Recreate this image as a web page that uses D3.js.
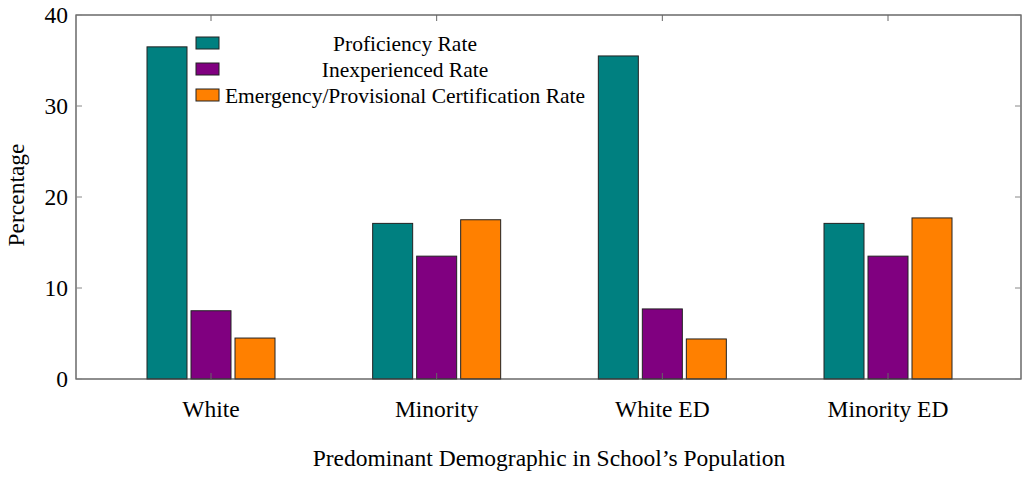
<!DOCTYPE html>
<html>
<head>
<meta charset="utf-8">
<script src="https://cdn.jsdelivr.net/npm/d3@7"></script>
<style>
  html, body { margin: 0; padding: 0; background: #fff; }
</style>
</head>
<body>
<svg id="chart" width="1030" height="478"></svg>
<script>
// --- data ---
const categories = ['White', 'Minority', 'White ED', 'Minority ED'];
const seriesNames = ['Proficiency Rate', 'Inexperienced Rate', 'Emergency/Provisional Certification Rate'];
const proficiency = [36.5, 17.1, 35.5, 17.1];
const inexperienced = [7.5, 13.5, 7.7, 13.5];
const emergency = [4.5, 17.5, 4.4, 17.7];
const yTicks = [0, 10, 20, 30, 40];
const colours = ['#008080', '#800080', '#ff8000'];

const series = [proficiency, inexperienced, emergency];
const FONT = "'Liberation Serif', Tinos, 'Times New Roman', 'DejaVu Serif', serif";

const m = { left: 76, right: 1021, top: 15, bottom: 379 };
const svg = d3.select('#chart');

const x = d3.scalePoint().domain(categories).range([211, 888]);
const y = d3.scaleLinear().domain([0, 40]).range([m.bottom, m.top]);
const barW = 40, step = 44;

function label(g, px, py, str, size, anchor) {
  return g.append('text').attr('x', px).attr('y', py)
    .attr('font-family', FONT).attr('font-size', size + 'px')
    .attr('text-anchor', anchor || 'middle').attr('fill', '#000').text(str);
}

// bars
series.forEach((vals, si) => {
  svg.append('g').selectAll('rect')
    .data(vals)
    .enter()
    .append('rect')
    .attr('x', (d, i) => x(categories[i]) + (si - 1) * step - barW / 2)
    .attr('y', d => y(d))
    .attr('width', barW)
    .attr('height', d => y(0) - y(d))
    .attr('fill', colours[si])
    .attr('stroke', '#222')
    .attr('stroke-width', 1);
});

// frame
svg.append('rect')
  .attr('x', m.left).attr('y', m.top)
  .attr('width', m.right - m.left).attr('height', m.bottom - m.top)
  .attr('fill', 'none').attr('stroke', '#444').attr('stroke-width', 1.2);

// y ticks (both sides) + labels
const tg = svg.append('g');
yTicks.forEach(t => {
  tg.append('line').attr('x1', m.left).attr('x2', m.left + 6).attr('y1', y(t)).attr('y2', y(t)).attr('stroke', '#888');
  tg.append('line').attr('x1', m.right - 6).attr('x2', m.right).attr('y1', y(t)).attr('y2', y(t)).attr('stroke', '#888');
  label(tg, m.left - 8, y(t), t, 23.5, 'end').attr('dy', '0.35em');
});

// x ticks (bottom and top) + labels
categories.forEach(c => {
  tg.append('line').attr('x1', x(c)).attr('x2', x(c)).attr('y1', m.bottom).attr('y2', m.bottom - 6).attr('stroke', '#666');
  tg.append('line').attr('x1', x(c)).attr('x2', x(c)).attr('y1', m.top).attr('y2', m.top + 6).attr('stroke', '#666');
  label(tg, x(c), 417, c, 23.5);
});

// axis titles
label(svg, 549, 466, 'Predominant Demographic in School\u2019s Population', 23.5);
label(svg, 0, 0, 'Percentage', 23.5).attr('transform', 'translate(24,195) rotate(-90)');

// legend
const lg = svg.append('g');
seriesNames.forEach((name, i) => {
  const ly = 43 + i * 26;
  lg.append('rect').attr('x', 196).attr('y', ly - 6).attr('width', 23).attr('height', 12)
    .attr('fill', colours[i]).attr('stroke', '#222').attr('stroke-width', 1);
  label(lg, 405, ly, name, 21.5).attr('dy', '0.35em');
});
</script>
</body>
</html>
